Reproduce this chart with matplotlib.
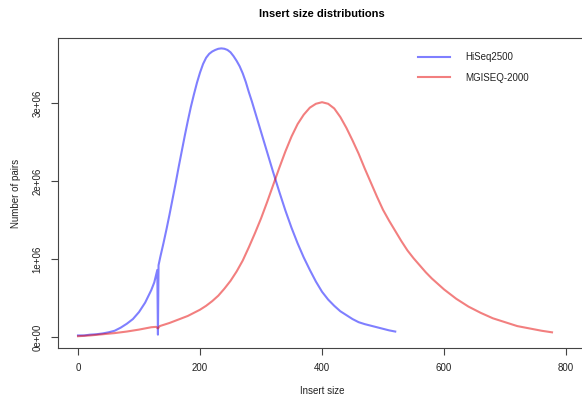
import matplotlib
matplotlib.use("Agg")
import matplotlib.pyplot as plt
import numpy as np

plt.rcParams['font.family'] = ['Liberation Sans', 'DejaVu Sans']

# insert size (bp) and number of pairs (millions)
hiseq_x = [0, 10, 20, 30, 40, 50, 60, 70, 80, 90, 100, 110, 120, 125, 130, 131,
           132, 135, 140, 145, 150, 155, 160, 165, 170, 175, 180, 185, 190, 195,
           200, 205, 210, 215, 220, 225, 230, 235, 240, 245, 250, 255, 260, 265,
           270, 275, 280, 285, 290, 295, 300, 310, 320, 330, 340, 350, 360, 370,
           380, 390, 400, 410, 420, 430, 440, 450, 460, 470, 480, 490, 500, 510,
           520]
hiseq_y = [0.02, 0.02, 0.03, 0.035, 0.045, 0.06, 0.08, 0.12, 0.17, 0.23, 0.32,
           0.44, 0.60, 0.70, 0.86, 0.03, 0.92, 1.03, 1.20, 1.38, 1.57, 1.77,
           1.97, 2.18, 2.38, 2.58, 2.77, 2.95, 3.11, 3.26, 3.39, 3.50, 3.58,
           3.63, 3.66, 3.68, 3.695, 3.70, 3.695, 3.68, 3.65, 3.60, 3.54, 3.47,
           3.38, 3.27, 3.14, 3.02, 2.89, 2.76, 2.63, 2.37, 2.11, 1.86, 1.62,
           1.40, 1.20, 1.02, 0.86, 0.71, 0.58, 0.48, 0.40, 0.33, 0.28, 0.23,
           0.19, 0.165, 0.145, 0.125, 0.105, 0.085, 0.07]

mgi_x = [0, 20, 40, 60, 80, 100, 110, 120, 128, 131, 134, 140, 150, 160, 170,
         180, 190, 200, 210, 220, 230, 240, 250, 260, 270, 280, 290, 300, 310,
         320, 330, 340, 350, 360, 370, 380, 390, 400, 410, 420, 430, 440, 450,
         460, 470, 480, 490, 500, 510, 520, 530, 540, 550, 560, 570, 580, 590,
         600, 620, 640, 660, 680, 700, 720, 740, 760, 777]
mgi_y = [0.01, 0.02, 0.035, 0.05, 0.07, 0.095, 0.11, 0.125, 0.13, 0.11, 0.14,
         0.155, 0.18, 0.21, 0.24, 0.27, 0.31, 0.35, 0.40, 0.46, 0.53, 0.62,
         0.72, 0.84, 0.98, 1.15, 1.33, 1.52, 1.73, 1.95, 2.17, 2.38, 2.57,
         2.73, 2.85, 2.94, 2.99, 3.01, 2.99, 2.93, 2.82, 2.68, 2.52, 2.35,
         2.16, 1.98, 1.80, 1.63, 1.49, 1.36, 1.23, 1.11, 1.01, 0.92, 0.83,
         0.75, 0.68, 0.61, 0.49, 0.39, 0.31, 0.24, 0.19, 0.14, 0.11, 0.08, 0.06]

x_ticks = [0, 200, 400, 600, 800]
y_ticks = [0, 1e6, 2e6, 3e6]
y_tick_labels = ["0e+00", "1e+06", "2e+06", "3e+06"]

W, H = 582, 399
fig = plt.figure(figsize=(W / 100, H / 100), dpi=100)
ax = fig.add_axes([57.7 / W, 51 / H, (593.5 - 57.7) / W, (348 - 37.7) / H])

ax.plot(hiseq_x, np.array(hiseq_y) * 1e6, color=(0, 0, 1, 0.5), lw=1.5,
        label="HiSeq2500")
ax.plot(mgi_x, np.array(mgi_y) * 1e6, color=(0.9, 0, 0, 0.5), lw=1.5,
        label="MGISEQ-2000")

ax.set_xlim(-33.3, 845)
ax.set_ylim(-0.141e6, 3.837e6)

ax.set_xticks(x_ticks)
ax.set_xticklabels([str(t) for t in x_ticks])
ax.set_yticks(y_ticks)
ax.set_yticklabels(y_tick_labels, rotation=90, va="center")
ax.tick_params(labelsize=7, length=5, width=0.8, colors="#444444",
               labelcolor="#222222", pad=6)
for s in ax.spines.values():
    s.set_color("#444444")
    s.set_linewidth(0.8)

fig.text(321.7 / W, 1 - 14 / H, "Insert size distributions", ha="center",
         va="center", fontsize=8, fontweight="bold")
fig.text(322 / W, 1 - 391 / H, "Insert size", ha="center", va="center",
         fontsize=7, color="#222222")
fig.text(16 / W, 1 - 193 / H, "Number of pairs", ha="center", va="center",
         rotation=90, fontsize=7, color="#222222")

ax.legend(loc="upper left", bbox_to_anchor=(418 / W, 1 - 52 / H),
          bbox_transform=fig.transFigure, frameon=False, fontsize=7,
          borderpad=0, borderaxespad=0, handlelength=3.3, handletextpad=1.6,
          labelspacing=1.1, labelcolor="#222222")

fig.savefig("out.png", dpi=100)
